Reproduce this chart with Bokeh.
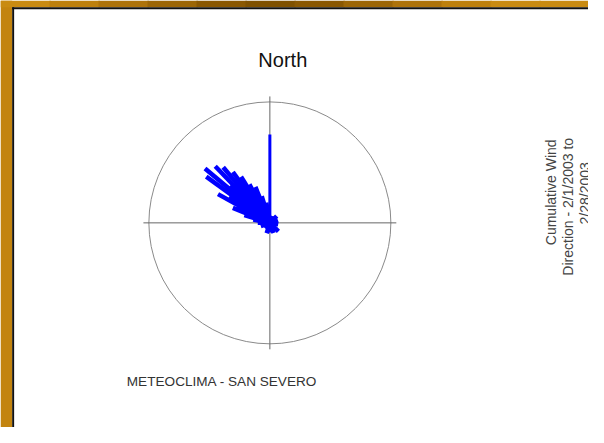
import numpy as np
from bokeh.plotting import figure
from bokeh.models import Label, Span, Range1d, BoxAnnotation
from bokeh.embed import file_html
from bokeh.resources import INLINE

# ---- data (compass bearing in degrees, length relative to outer circle = 1) ----
spoke_dir = [281, 287, 292, 296, 299, 302, 306, 310, 313, 316, 320, 324, 328, 332,
             335, 338, 343, 350, 20, 45, 70, 100, 135, 160, 180, 197, 225, 250, 270]
spoke_len = [0.14, 0.22, 0.33, 0.30, 0.49, 0.40, 0.65, 0.70, 0.45, 0.65, 0.60, 0.52, 0.45, 0.36,
             0.28, 0.32, 0.23, 0.17, 0.06, 0.08, 0.07, 0.07, 0.10, 0.09, 0.08, 0.09, 0.06, 0.08, 0.10]
north_dir = [0]
north_len = [0.73]

title_text = "North"
station_text = "METEOCLIMA - SAN SEVERO"
side_lines = ["Cumulative Wind", "Direction - 2/1/2003 to", "2/28/2003"]

# ---- geometry ----
W, H = 588, 427
SX, SY = W / 604.0, H / 443.0          # reference px -> figure px
SCALE = 121.0                           # px per data unit (outer circle radius)
CXF, CYF = 276.7 * SX, 230.7 * SY
x0 = -CXF / SCALE
x1 = x0 + W / SCALE
y1 = CYF / SCALE
y0 = y1 - H / SCALE


def px(rx):
    return x0 + rx * SX / SCALE


def py(ry):
    return y1 - ry * SY / SCALE


p = figure(width=W, height=H, x_range=Range1d(x0, x1), y_range=Range1d(y0, y1),
           x_axis_type=None, y_axis_type=None, toolbar_location=None,
           output_backend="svg", min_border=0, border_fill_color="white",
           outline_line_color=None, background_fill_color="white")

# golden frame (left strip and shaded top strip)
p.add_layout(BoxAnnotation(left=x0, right=px(12), bottom=y0, top=y1,
                           fill_color="#c3840f", fill_alpha=1, line_color=None))
top_cols = ["#c98b12", "#bd800d", "#ae730a", "#9c6606", "#8a5802", "#7f5100",
            "#8a5802", "#9c6606", "#ae730a", "#bd800d", "#c98b12", "#c98b12"]
n = len(top_cols)
for i, c in enumerate(top_cols):
    p.add_layout(BoxAnnotation(left=px(604 * i / n), right=px(604 * (i + 1) / n) + 0.01,
                               bottom=py(7), top=y1, fill_color=c, fill_alpha=1,
                               line_color=None))
p.add_layout(BoxAnnotation(left=px(12), right=px(14), bottom=y0, top=py(7),
                           fill_color="#111111", fill_alpha=1, line_color=None))
p.add_layout(BoxAnnotation(left=px(12), right=x1, bottom=py(9), top=py(7),
                           fill_color="#111111", fill_alpha=1, line_color=None))

# outer circle and cross
p.circle(x=[0], y=[0], radius=1.0, fill_color=None, line_color="#8a8a8a", line_width=1)
p.segment(x0=[-1.045, 0], y0=[0, -1.045], x1=[1.045, 0], y1=[0, 1.045],
          line_color="#666666", line_width=1)

# spokes
d = np.radians(spoke_dir)
r = np.array(spoke_len)
p.segment(x0=np.zeros(len(r)), y0=np.zeros(len(r)), x1=r * np.sin(d), y1=r * np.cos(d),
          line_color="#0000ff", line_width=4.5, line_cap="butt")
dn = np.radians(north_dir)
rn = np.array(north_len)
p.segment(x0=[0], y0=[0], x1=rn * np.sin(dn), y1=rn * np.cos(dn),
          line_color="#0000ff", line_width=3, line_cap="butt")

font = "Liberation Sans"
p.add_layout(Label(x=px(290), y=py(62), text=title_text, text_font=font,
                   text_font_size="20px", text_color="#111111",
                   text_align="center", text_baseline="middle"))
p.add_layout(Label(x=px(227.5), y=py(395.5), text=station_text, text_font=font,
                   text_font_size="13.6px", text_color="#333333",
                   text_align="center", text_baseline="middle"))
side_x = [565, 583, 600]
side_y = [199, 214, 200]
for t, sx, sy in zip(side_lines, side_x, side_y):
    p.add_layout(Label(x=px(sx), y=py(sy), text=t, text_font=font,
                       text_font_size="14px", text_color="#444444", angle=np.pi / 2,
                       text_align="center", text_baseline="middle"))

open("out.html", "w").write(file_html(p, INLINE))
